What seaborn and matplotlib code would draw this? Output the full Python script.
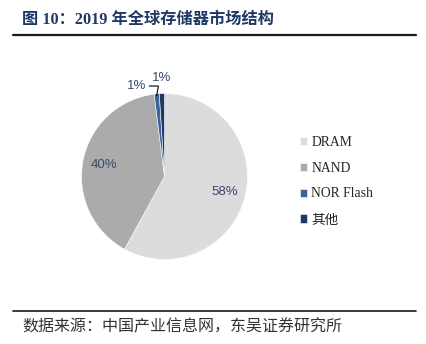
import numpy as np
import pandas as pd
import matplotlib
matplotlib.use("Agg")
import matplotlib.pyplot as plt
import seaborn as sns
from matplotlib.lines import Line2D

categories = ["DRAM", "NAND", "NOR Flash", "其他"]
shares = [58, 40, 1, 1]
colors = ["#DCDCDC", "#ABABAB", "#3C6498", "#1F3864"]
title_text = "图 10：2019 年全球存储器市场结构"
source_text = "数据来源：中国产业信息网，东吴证券研究所"

sns.set_theme(style="white")
plt.rcParams['font.family'] = ['Liberation Sans', 'Noto Sans CJK SC', 'DejaVu Sans']

df = pd.DataFrame({"category": categories, "share": shares})

W, H = 426, 344
fig = plt.figure(figsize=(W / 100, H / 100), dpi=100)
fig.patch.set_facecolor("white")

cx, cy, r = 164.5, 176.5, 83.0
ax = fig.add_axes([(cx - r) / W, (H - cy - r) / H, 2 * r / W, 2 * r / H])

wedges, _ = ax.pie(df["share"], colors=colors, startangle=90, counterclock=False,
                   radius=1.0, wedgeprops=dict(edgecolor="white", linewidth=0.4))
ax.set_xlim(-1, 1)
ax.set_ylim(-1, 1)
ax.set_aspect("equal")
ax.axis("off")

label_color = "#3A4A6B"
fs_pct = 9.5
total = float(sum(shares))
cum = 0.0
for i, v in enumerate(shares):
    mid = 90 - 360 * (cum + v / 2) / total
    cum += v
    ang = np.deg2rad(mid)
    txt = f"{v}%"
    if v >= 5:
        d = 0.745
        ax.text(d * np.cos(ang), d * np.sin(ang), txt, ha="center", va="center",
                fontsize=fs_pct, color=label_color, family="Liberation Sans")
    elif i == 2:
        ax.annotate(txt, xy=(np.cos(ang), np.sin(ang) - 0.02), xytext=(-0.34, 1.09),
                    textcoords="data", ha="center", va="center", fontsize=fs_pct,
                    color=label_color, family="Liberation Sans",
                    arrowprops=dict(arrowstyle="-", color="black", lw=0.8,
                                    shrinkA=0, shrinkB=0,
                                    connectionstyle="angle,angleA=0,angleB=80,rad=0"),
                    annotation_clip=False)
    else:
        ax.text(-0.03, 1.19, txt, ha="center", va="center", fontsize=fs_pct,
                color=label_color, family="Liberation Sans", clip_on=False)

ax.legend(wedges, categories, loc="center left",
          bbox_to_anchor=(293 / W, 1 - 181 / H), bbox_transform=fig.transFigure,
          frameon=False, handlelength=0.55, handleheight=0.55, handletextpad=0.3,
          labelspacing=0.95, borderpad=0,
          prop=dict(family=['Liberation Serif', 'Noto Sans CJK SC'], size=9.8))

# title
fig.text(22 / W, 1 - 20 / H, title_text, ha="left", va="center", fontsize=11.7,
         fontweight="bold", color="#1F3864",
         family=['Liberation Serif', 'Noto Sans CJK SC'])
fig.add_artist(Line2D([13 / W, 416 / W], [1 - 34.5 / H, 1 - 34.5 / H],
                      transform=fig.transFigure, color="#1a1a1a", lw=1.6))
fig.add_artist(Line2D([13 / W, 416 / W], [1 - 311 / H, 1 - 311 / H],
                      transform=fig.transFigure, color="#1a1a1a", lw=1.2))
fig.text(22 / W, 1 - 327 / H, source_text, ha="left", va="center", fontsize=11.5,
         color="#333333", family=['Noto Sans CJK SC', 'DejaVu Sans'])

fig.savefig("out.png", dpi=100, facecolor="white")
